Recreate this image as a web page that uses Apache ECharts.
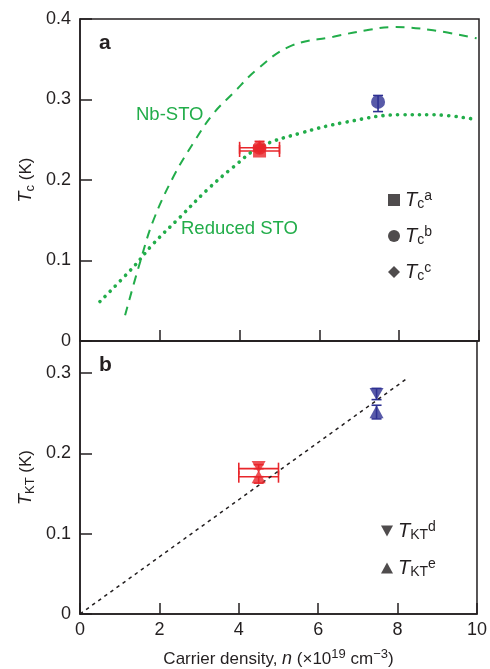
<!DOCTYPE html>
<html>
<head>
<meta charset="utf-8">
<script src="https://cdn.jsdelivr.net/npm/echarts@6/dist/echarts.min.js"></script>
<style>
  html, body { margin: 0; padding: 0; background: #fff; }
  #chart { width: 490px; height: 669px; }
</style>
</head>
<body>
<div id="chart"></div>
<script>
// panel a: literature curves
const nbX = [1.13, 1.5, 1.84, 2.34, 2.84, 3.35, 3.84, 4.43, 5.26, 6.35, 7.18, 7.85, 8.85, 9.94];
const nbY = [0.032, 0.097, 0.150, 0.204, 0.246, 0.283, 0.308, 0.337, 0.366, 0.378, 0.386, 0.390, 0.386, 0.376];
const redX = [0.5, 1.34, 1.84, 2.51, 3.17, 3.84, 4.51, 5.51, 6.68, 8.02, 8.85, 9.94];
const redY = [0.049, 0.092, 0.121, 0.154, 0.187, 0.216, 0.241, 0.258, 0.272, 0.281, 0.281, 0.275];

// panel a: measured Tc points  [x, y]
const tcA = [[4.5, 0.236]];
const tcB = [[4.5, 0.240], [7.47, 0.297]];
const tcC = [[4.5, 0.240]];
// error bars [x, y, xlo, xhi, ylo, yhi]
const errA = [
  [4.5, 0.236, 4.0, 5.0, 0.236, 0.236],
  [4.5, 0.240, 4.0, 5.0, 0.240, 0.248],
  [7.47, 0.297, 7.47, 7.47, 0.285, 0.305]
];

// panel b: TKT points and linear guide
const tktD = [[4.5, 0.183], [7.47, 0.274]];
const tktE = [[4.5, 0.171], [7.47, 0.252]];
const errB = [
  [4.5, 0.181, 4.0, 5.0, 0.181, 0.186],
  [4.5, 0.171, 4.0, 5.0, 0.163, 0.171],
  [7.47, 0.274, 7.47, 7.47, 0.267, 0.281],
  [7.47, 0.252, 7.47, 7.47, 0.243, 0.260]
];
const fitX = [0, 8.2];
const fitY = [0, 0.292];

const xTicks = [0, 2, 4, 6, 8, 10];

const RED = '#e8262b';
const BLUE = '#2e3192';
const GREEN = '#22ad4a';
const INK = '#231f20';
const FONT = '"Liberation Sans", Arial, Helvetica, sans-serif';

const zip = (a, b) => a.map((v, i) => [v, b[i]]);
const colorOf = (x) => (x < 6 ? RED : BLUE);

const rich = {
  i: { fontFamily: FONT, fontSize: 18, fontStyle: 'italic', color: INK, lineHeight: 22 },
  n: { fontFamily: FONT, fontSize: 17, color: INK, lineHeight: 22 },
  s: { fontFamily: FONT, fontSize: 13, color: INK, lineHeight: 13, verticalAlign: 'bottom' },
  p: { fontFamily: FONT, fontSize: 13, color: INK, lineHeight: 13, verticalAlign: 'top' }
};
const legendRich = Object.assign({}, rich, {
  i: { fontFamily: FONT, fontSize: 20, fontStyle: 'italic', color: INK, lineHeight: 22 },
  s: { fontFamily: FONT, fontSize: 14, color: INK, lineHeight: 13, verticalAlign: 'bottom' },
  p: { fontFamily: FONT, fontSize: 14, color: INK, lineHeight: 13, verticalAlign: 'top' }
});

const legendNames = {
  Tca: ['c', 'a'], Tcb: ['c', 'b'], Tcc: ['c', 'c'],
  TKTd: ['KT', 'd'], TKTe: ['KT', 'e']
};
const legendText = (name) => '{i|T}{s|' + legendNames[name][0] + '}{p|' + legendNames[name][1] + '}';

function errorBars(params, api) {
  const x = api.value(0), y = api.value(1);
  const x0 = api.value(2), x1 = api.value(3), y0 = api.value(4), y1 = api.value(5);
  const col = colorOf(x);
  const kids = [];
  const st = { stroke: col, lineWidth: 1.6 };
  if (x1 > x0) {
    const a = api.coord([x0, y]), b = api.coord([x1, y]);
    kids.push({ type: 'line', shape: { x1: a[0], y1: a[1], x2: b[0], y2: b[1] }, style: st });
    kids.push({ type: 'line', shape: { x1: a[0], y1: a[1] - 6, x2: a[0], y2: a[1] + 6 }, style: st });
    kids.push({ type: 'line', shape: { x1: b[0], y1: b[1] - 6, x2: b[0], y2: b[1] + 6 }, style: st });
  }
  if (y1 > y0) {
    const a = api.coord([x, y0]), b = api.coord([x, y1]);
    kids.push({ type: 'line', shape: { x1: a[0], y1: a[1], x2: b[0], y2: b[1] }, style: st });
    kids.push({ type: 'line', shape: { x1: a[0] - 5, y1: a[1], x2: a[0] + 5, y2: a[1] }, style: st });
    kids.push({ type: 'line', shape: { x1: b[0] - 5, y1: b[1], x2: b[0] + 5, y2: b[1] }, style: st });
  }
  return { type: 'group', children: kids };
}

const axisLine = { show: true, lineStyle: { color: INK, width: 1.5 } };
const labelStyle = { fontFamily: FONT, fontSize: 18, color: INK };

const chart = echarts.init(document.getElementById('chart'));
chart.setOption({
  animation: false,
  backgroundColor: '#fff',
  grid: [
    { left: 80, right: 11, top: 19, height: 322, show: true, borderColor: INK, borderWidth: 1.5 },
    { left: 80, right: 11, top: 341, height: 276, show: true, borderColor: INK, borderWidth: 1.5 }
  ],
  xAxis: [
    {
      gridIndex: 0, type: 'value', min: xTicks[0], max: xTicks[xTicks.length - 1], interval: 2,
      axisLine: axisLine, axisTick: { inside: true, length: 11, lineStyle: { color: INK, width: 1.5 } },
      axisLabel: { show: false }, splitLine: { show: false }
    },
    {
      gridIndex: 1, type: 'value', min: xTicks[0], max: xTicks[xTicks.length - 1], interval: 2,
      axisLine: axisLine, axisTick: { inside: true, length: 11, lineStyle: { color: INK, width: 1.5 } },
      axisLabel: Object.assign({ margin: 7 }, labelStyle), splitLine: { show: false },
      name: '{n|Carrier density, }{i|n}{n| (×10}{p|19}{n| cm}{p|−3}{n|)}',
      nameLocation: 'middle', nameGap: 34, nameMoveOverlap: false,
      nameTextStyle: { rich: rich }
    }
  ],
  yAxis: [
    {
      gridIndex: 0, type: 'value', min: 0, max: 0.4, interval: 0.1,
      axisLine: axisLine, axisTick: { inside: true, length: 12, lineStyle: { color: INK, width: 1.5 } },
      axisLabel: Object.assign({ margin: 9, formatter: (v) => (v === 0 ? '0' : v.toFixed(1)) }, labelStyle),
      splitLine: { show: false },
      name: '{i|T}{s|c}{n| (K)}', nameLocation: 'middle', nameRotate: 90, nameGap: 43,
      nameMoveOverlap: false,
      nameTextStyle: { rich: rich }
    },
    {
      gridIndex: 1, type: 'value', min: 0, max: 0.34, interval: 0.1,
      axisLine: axisLine, axisTick: { inside: true, length: 12, lineStyle: { color: INK, width: 1.5 } },
      axisLabel: Object.assign({ margin: 9, showMaxLabel: false, formatter: (v) => (v === 0 ? '0' : v.toFixed(1)) }, labelStyle),
      splitLine: { show: false },
      name: '{i|T}{s|KT}{n| (K)}', nameLocation: 'middle', nameRotate: 90, nameGap: 43,
      nameMoveOverlap: false,
      nameTextStyle: { rich: rich }
    }
  ],
  legend: [
    {
      data: ['Tca', 'Tcb', 'Tcc'], orient: 'vertical', left: 388, top: 189, padding: 0,
      itemWidth: 12, itemHeight: 12, itemGap: 14,
      itemStyle: { color: INK, borderWidth: 0 },
      formatter: legendText,
      textStyle: { rich: legendRich }
    },
    {
      data: [
        { name: 'TKTd', icon: 'path://M0,0L12,0L6,11Z' },
        { name: 'TKTe', icon: 'path://M6,0L12,11L0,11Z' }
      ],
      orient: 'vertical', left: 381, top: 520, padding: 0,
      itemWidth: 12, itemHeight: 11, itemGap: 15,
      itemStyle: { color: INK, borderWidth: 0 },
      formatter: legendText,
      textStyle: { rich: legendRich }
    }
  ],
  graphic: [
    { type: 'text', left: 99, top: 33, style: { text: 'a', font: 'bold 21px ' + FONT, fill: INK } },
    { type: 'text', left: 99, top: 355, style: { text: 'b', font: 'bold 21px ' + FONT, fill: INK } },
    { type: 'text', left: 136, top: 105, style: { text: 'Nb-STO', font: '18.5px ' + FONT, fill: GREEN } },
    { type: 'text', left: 181, top: 219, style: { text: 'Reduced STO', font: '18.5px ' + FONT, fill: GREEN } }
  ],
  series: [
    {
      name: 'Nb-STO', type: 'line', xAxisIndex: 0, yAxisIndex: 0, data: zip(nbX, nbY),
      smooth: 0.4, showSymbol: false, silent: true,
      lineStyle: { color: GREEN, width: 2, type: [9, 7] }
    },
    {
      name: 'Reduced STO', type: 'line', xAxisIndex: 0, yAxisIndex: 0, data: zip(redX, redY),
      smooth: 0.4, showSymbol: false, silent: true,
      lineStyle: { color: GREEN, width: 3.6, type: [0.1, 7.2], cap: 'round' }
    },
    {
      type: 'custom', xAxisIndex: 0, yAxisIndex: 0, data: errA, renderItem: errorBars, z: 3
    },
    {
      name: 'Tcc', type: 'scatter', xAxisIndex: 0, yAxisIndex: 0, data: tcC,
      symbol: 'diamond', symbolSize: 13, itemStyle: { color: RED }, z: 4
    },
    {
      name: 'Tcb', type: 'scatter', xAxisIndex: 0, yAxisIndex: 0,
      data: tcB.map((d) => ({ value: d, itemStyle: { color: colorOf(d[0]) } })),
      symbol: 'circle', symbolSize: 14, itemStyle: { color: RED }, z: 5
    },
    {
      name: 'Tca', type: 'scatter', xAxisIndex: 0, yAxisIndex: 0, data: tcA,
      symbol: 'rect', symbolSize: 13, itemStyle: { color: RED }, z: 6
    },
    {
      name: 'fit', type: 'line', xAxisIndex: 1, yAxisIndex: 1, data: zip(fitX, fitY),
      showSymbol: false, silent: true,
      lineStyle: { color: INK, width: 1.5, type: [3.5, 4] }
    },
    {
      type: 'custom', xAxisIndex: 1, yAxisIndex: 1, data: errB, renderItem: errorBars, z: 3
    },
    {
      name: 'TKTd', type: 'scatter', xAxisIndex: 1, yAxisIndex: 1,
      data: tktD.map((d) => ({ value: d, itemStyle: { color: colorOf(d[0]) } })),
      symbol: 'triangle', symbolRotate: 180, symbolSize: [14, 12], itemStyle: { color: RED }, z: 5
    },
    {
      name: 'TKTe', type: 'scatter', xAxisIndex: 1, yAxisIndex: 1,
      data: tktE.map((d) => ({ value: d, itemStyle: { color: colorOf(d[0]) } })),
      symbol: 'triangle', symbolSize: [14, 13], itemStyle: { color: RED }, z: 5
    }
  ]
});
</script>
</body>
</html>
